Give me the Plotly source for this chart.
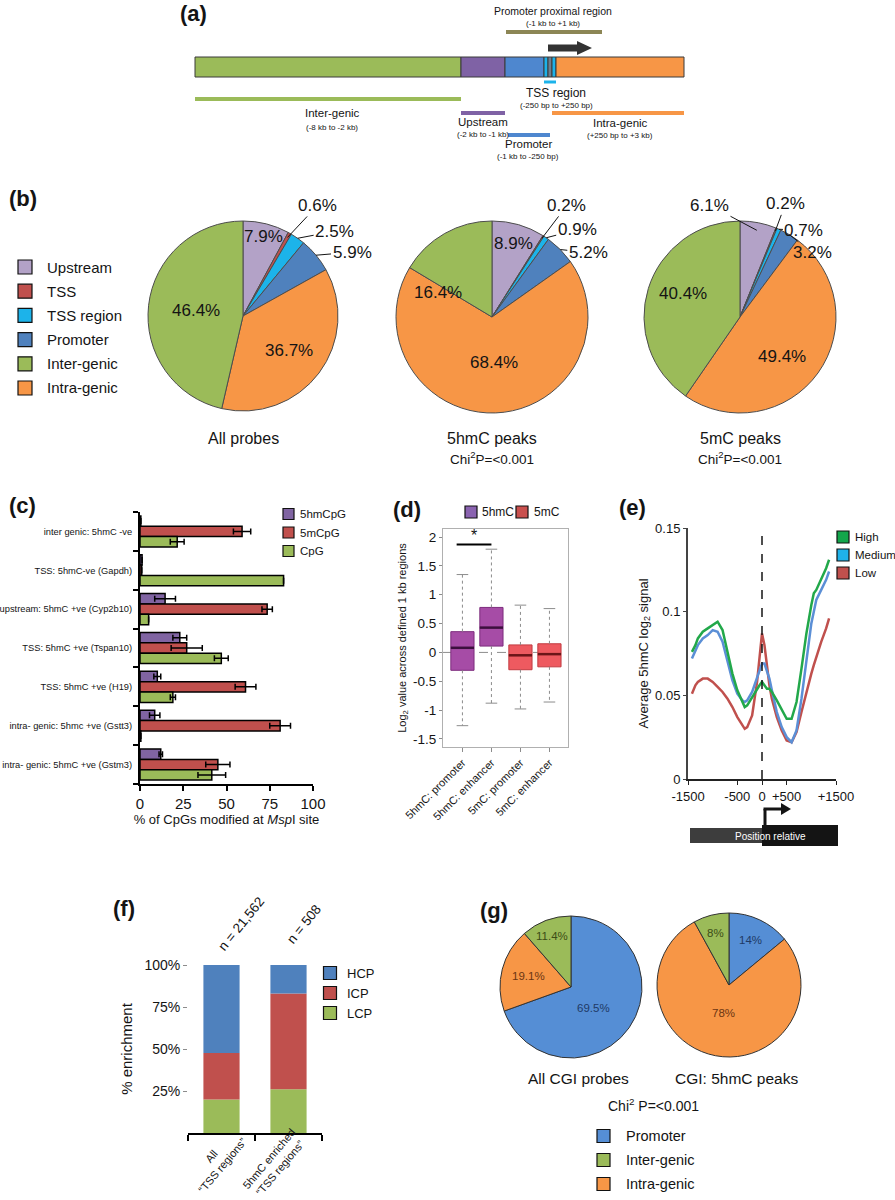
import math
import plotly.graph_objects as go

# ============================ DATA ============================
# (a) gene-region schematic (text only)
a_regions = ["Inter-genic", "Upstream", "Promoter", "TSS region", "Intra-genic"]
a_region_spans = ["(-8 kb to -2 kb)", "(-2 kb to -1 kb)", "(-1 kb to -250 bp)",
                  "(-250 bp to +250 bp)", "(+250 bp to +3 kb)"]
a_proximal_label = "Promoter proximal region"
a_proximal_span = "(-1 kb to +1 kb)"

# (b) genomic distribution of probes / peaks (percent)
b_labels = ["Upstream", "TSS", "TSS region", "Promoter", "Intra-genic", "Inter-genic"]
b_legend_order = ["Upstream", "TSS", "TSS region", "Promoter", "Inter-genic", "Intra-genic"]
b_all_probes = [7.9, 0.6, 2.5, 5.9, 36.7, 46.4]
b_5hmc_peaks = [8.9, 0.2, 0.9, 5.2, 68.4, 16.4]
b_5mc_peaks = [6.1, 0.2, 0.7, 3.2, 49.4, 40.4]
b_titles = ["All probes", "5hmC peaks", "5mC peaks"]
b_subtitles = ["", "Chi<sup>2</sup>P=&lt;0.001", "Chi<sup>2</sup>P=&lt;0.001"]

# (c) % of CpGs modified at MspI site
c_loci = ["inter genic: 5hmC -ve", "TSS: 5hmC-ve (Gapdh)", "upstream: 5hmC +ve (Cyp2b10)",
          "TSS: 5hmC +ve (Tspan10)", "TSS: 5hmC +ve (H19)", "intra- genic: 5hmc +ve (Gstt3)",
          "intra- genic: 5hmC +ve (Gstm3)"]
c_series = ["5hmCpG", "5mCpG", "CpG"]
c_5hmcpg = [0.5, 1.2, 14.5, 23.0, 10.0, 8.5, 12.0]
c_5hmcpg_err = [None, None, 6.0, 4.0, 2.0, 3.0, 1.0]
c_5mcpg = [59.0, 1.0, 73.5, 27.0, 61.0, 81.0, 45.0]
c_5mcpg_err = [5.0, None, 3.0, 9.0, 6.0, 6.0, 7.0]
c_cpg = [21.5, 83.0, 5.0, 47.0, 19.0, 0.5, 41.5]
c_cpg_err = [4.0, None, None, 4.0, 1.5, None, 8.0]

# (d) Log2 value across defined 1 kb regions (box statistics)
d_groups = ["5hmC: promoter", "5hmC: enhancer", "5mC: promoter", "5mC: enhancer"]
d_group_series = ["5hmC", "5hmC", "5mC", "5mC"]
d_series = ["5hmC", "5mC"]
d_upper_whisker = [1.35, 1.79, 0.82, 0.76]
d_q3 = [0.36, 0.78, 0.13, 0.15]
d_median = [0.08, 0.43, -0.05, -0.03]
d_q1 = [-0.31, 0.11, -0.30, -0.25]
d_lower_whisker = [-1.27, -0.88, -0.98, -0.86]
d_sig_level = 1.87
d_yticks = [-1.5, -1, -0.5, 0, 0.5, 1, 1.5, 2]

# (e) average 5hmC log2 signal around the TSS
e_position = [-1420, -1350, -1300, -1200, -1100, -1000, -900, -800, -700, -600, -500, -400,
              -350, -300, -200, -100, -50, 0, 50, 100, 150, 200, 300, 400, 500, 600, 700,
              800, 900, 1000, 1050, 1100, 1200, 1300, 1360]
e_high = [0.076, 0.080, 0.084, 0.088, 0.090, 0.092, 0.094, 0.089, 0.076, 0.063, 0.053, 0.046,
          0.043, 0.044, 0.049, 0.054, 0.056, 0.058, 0.056, 0.054, 0.054, 0.052, 0.047, 0.041,
          0.036, 0.036, 0.046, 0.066, 0.087, 0.104, 0.111, 0.113, 0.119, 0.126, 0.131]
e_medium = [0.072, 0.077, 0.080, 0.084, 0.086, 0.089, 0.088, 0.082, 0.070, 0.059, 0.051, 0.047,
            0.046, 0.047, 0.052, 0.060, 0.065, 0.069, 0.069, 0.065, 0.060, 0.053, 0.040, 0.031,
            0.025, 0.022, 0.029, 0.048, 0.072, 0.093, 0.100, 0.107, 0.113, 0.119, 0.124]
e_low = [0.051, 0.056, 0.058, 0.060, 0.060, 0.058, 0.055, 0.052, 0.048, 0.043, 0.037, 0.032,
         0.030, 0.031, 0.038, 0.058, 0.075, 0.087, 0.080, 0.068, 0.056, 0.048, 0.037, 0.029,
         0.023, 0.022, 0.028, 0.040, 0.052, 0.063, 0.068, 0.073, 0.082, 0.090, 0.096]
e_series = ["High", "Medium", "Low"]
e_xtick_vals = [-1500, -500, 0, 500, 1500]
e_xtick_text = ["-1500", "-500", "0", "+500", "+1500"]
e_ytick_vals = [0, 0.05, 0.1, 0.15]
e_ytick_text = ["0", "0.05", "0.1", "0.15"]

# (f) CpG class of TSS regions (% enrichment)
f_groups = ["All<br>“TSS regions”", "5hmC enriched<br>“TSS regions”"]
f_n = ["n = 21,562", "n = 508"]
f_series = ["HCP", "ICP", "LCP"]
f_lcp = [20.0, 26.0]
f_icp = [27.6, 57.0]
f_hcp = [52.4, 17.0]
f_yticks = [25, 50, 75, 100]

# (g) CGI probes / CGI 5hmC peaks (percent)
g_labels = ["Promoter", "Intra-genic", "Inter-genic"]
g_legend_order = ["Promoter", "Inter-genic", "Intra-genic"]
g_all_cgi = [69.5, 19.1, 11.4]
g_cgi_5hmc = [14, 78, 8]
g_titles = ["All CGI probes", "CGI: 5hmC peaks"]
g_stat = "Chi<sup>2</sup> P=&lt;0.001"

# ============================ STYLE ============================
W, H = 895, 1200
FONT = "Liberation Sans, Arial, Helvetica, sans-serif"
INK = "#141414"
C_GREEN, C_ORANGE, C_BLUE, C_RED = "#9bbb59", "#f79646", "#4f81bd", "#c0504d"
C_LAV, C_CYAN, C_PURPLE = "#b3a2c7", "#1cb3ea", "#8064a2"

b_colors = {"Upstream": C_LAV, "TSS": C_RED, "TSS region": C_CYAN, "Promoter": C_BLUE,
            "Inter-genic": C_GREEN, "Intra-genic": C_ORANGE}
g_colors = {"Promoter": "#558ed5", "Inter-genic": C_GREEN, "Intra-genic": C_ORANGE}
g_text_colors = {"Promoter": "#1f3a66", "Inter-genic": "#3c4d16", "Intra-genic": "#6b3512"}


def px(x):
    return x / W


def py(y):
    return 1 - y / H


shapes, annotations = [], []


def text(x, y, s, size, color=INK, bold=False, xanchor="center", yanchor="middle", **kw):
    if bold:
        s = "<b>%s</b>" % s
    annotations.append(dict(xref="paper", yref="paper", x=px(x), y=py(y), text=s, showarrow=False,
                            xanchor=xanchor, yanchor=yanchor,
                            font=dict(family=FONT, size=size, color=color), **kw))


def rect(x0, y0, x1, y1, fill, line="#333333", lw=1.0):
    shapes.append(dict(type="rect", xref="paper", yref="paper", x0=px(x0), x1=px(x1),
                       y0=py(y1), y1=py(y0), fillcolor=fill,
                       line=dict(color=line, width=lw)))


def seg(x0, y0, x1, y1, color, lw, dash="solid"):
    shapes.append(dict(type="line", xref="paper", yref="paper", x0=px(x0), x1=px(x1),
                       y0=py(y0), y1=py(y1), line=dict(color=color, width=lw, dash=dash)))


def poly(points, color):
    d = "M" + " L".join("%f,%f" % (px(x), py(y)) for x, y in points) + " Z"
    shapes.append(dict(type="path", xref="paper", yref="paper", path=d, fillcolor=color,
                       line=dict(color=color, width=0)))


def legend(labels, colors, sym_x, y0, dy, size, font_size, text_x):
    for i, (lab, col) in enumerate(zip(labels, colors)):
        yc = y0 + i * dy
        rect(sym_x - size / 2, yc - size / 2, sym_x + size / 2, yc + size / 2, col, "#111111", 1.2)
        text(text_x, yc, lab, font_size, xanchor="left")


def mid_angles(values):
    tot, cum, out = float(sum(values)), 0.0, []
    for v in values:
        out.append((cum + v / 2.0) / tot * 360.0)
        cum += v
    return out


def pie_point(cx, cy, r, ang, rf):
    a = math.radians(ang)
    return cx + r * rf * math.sin(a), cy - r * rf * math.cos(a)


def pie_domain(cx, cy, r):
    return dict(x=[px(cx - r), px(cx + r)], y=[py(cy + r), py(cy - r)])


fig = go.Figure()

# ---------------------------- (a) ----------------------------
text(193, 13, "(a)", 22, bold=True)
bar_top, bar_bot = 57, 77
for x0, x1, col in [(195, 461, C_GREEN), (461, 505, "#7f62a5"), (505, 544, "#4e87cf"),
                    (544, 548, C_CYAN), (548, 552, "#6f7f8f"), (552, 556, C_CYAN),
                    (556, 684, C_ORANGE)]:
    rect(x0, bar_top, x1, bar_bot, col, "#3a3a3a", 1)
seg(506, 32, 602, 32, "#8c8655", 4)
seg(544, 82, 556, 82, C_CYAN, 3)
seg(195, 99, 461, 99, C_GREEN, 4)
seg(461, 113, 505, 113, "#7f62a5", 4)
seg(508, 135, 550, 135, "#4e87cf", 4)
seg(552, 113, 684, 113, C_ORANGE, 4)
poly([(548, 44.5), (577, 44.5), (577, 41), (592, 48), (577, 55), (577, 51.5), (548, 51.5)], "#333333")
text(553, 11, a_proximal_label, 10.5)
text(553, 23, a_proximal_span, 8)
a_pos = [(332, 113, 127), (483, 122, 134), (528, 144, 156), (556, 93, 105), (620, 123, 136)]
a_size = [11.5, 11.5, 11.5, 12, 11.5]
for lab, span, (cx, yl, ys), fs in zip(a_regions, a_region_spans, a_pos, a_size):
    text(cx, yl, lab, fs)
    text(cx, ys, span, 8)

# ---------------------------- (b) ----------------------------
text(23, 199, "(b)", 22, bold=True)
legend(b_legend_order, [b_colors[k] for k in b_legend_order], 25, 267, 24.2, 14, 15, 45)
b_geom = [(243, 316, 95), (492, 317, 96), (740, 317, 96)]
b_label_style = [
    [("in", 0.86, 0), ("out", 0.95, 30, -32), ("out", 1.0, 37, -7), ("out", 1.0, 36, -3),
     ("in", 0.6, 0), ("in", 0.5, 0)],
    [("in", 0.8, 0), ("out", 0.97, 25, -33), ("out", 1.0, 31, -8), ("out", 1.0, 28, 3),
     ("in", 0.47, 0), ("in", 0.62, -36)],
    [("out", 0.92, -47, -25), ("out", 0.97, 10, -27), ("out", 1.0, 25, 1), ("out", 1.0, 23, 18),
     ("in", 0.6, 8), ("in", 0.64, 5)],
]
for k, (vals, (cx, cy, r)) in enumerate(zip([b_all_probes, b_5hmc_peaks, b_5mc_peaks], b_geom)):
    fig.add_trace(go.Pie(labels=b_labels, values=vals, sort=False, direction="clockwise",
                         rotation=0, textinfo="none", showlegend=False,
                         marker=dict(colors=[b_colors[l] for l in b_labels],
                                     line=dict(color="#4d4d4d", width=1)),
                         domain=pie_domain(cx, cy, r), name=b_titles[k]))
    mids = mid_angles(vals)
    for i, v in enumerate(vals):
        st = b_label_style[k][i]
        lab = "%g%%" % v
        if st[0] == "in":
            x, y = pie_point(cx, cy, r, mids[i] + st[2], st[1])
            text(x, y, lab, 17)
        else:
            x, y = pie_point(cx, cy, r, mids[i], st[1])
            annotations.append(dict(xref="paper", yref="paper", x=px(x), y=py(y), ax=st[2], ay=st[3],
                                    text=lab, showarrow=True, arrowhead=0, arrowwidth=1,
                                    arrowcolor=INK, standoff=0, xanchor="center", yanchor="middle",
                                    font=dict(family=FONT, size=17, color=INK)))
    text(cx, 438, b_titles[k], 16)
    if b_subtitles[k]:
        text(cx, 458, b_subtitles[k], 13.5)

# ---------------------------- (c) ----------------------------
text(22, 506, "(c)", 22, bold=True)
c_colors = [C_PURPLE, C_RED, C_GREEN]
c_y = list(range(len(c_loci)))
for name, vals, errs, col in zip(c_series, [c_5hmcpg, c_5mcpg, c_cpg],
                                 [c_5hmcpg_err, c_5mcpg_err, c_cpg_err], c_colors):
    fig.add_trace(go.Bar(x=vals, y=c_y, orientation="h", name=name, showlegend=False,
                         marker=dict(color=col, line=dict(color="black", width=1.5)),
                         error_x=dict(type="data", array=errs, visible=True, color="black",
                                      thickness=1.5, width=3),
                         xaxis="x", yaxis="y"))
legend(c_series, c_colors, 288.5, 514, 18.5, 11, 11.5, 298)

# ---------------------------- (d) ----------------------------
text(407, 509, "(d)", 22, bold=True)
d_fill = {"5hmC": "#a64ca6", "5mC": "#ee5a60"}
d_line = {"5hmC": "#7d2c7d", "5mC": "#c23b40"}
d_med = {"5hmC": "#3c0f3e", "5mC": "#6b1518"}
for s in d_series:
    idx = [i for i, g in enumerate(d_group_series) if g == s]
    fig.add_trace(go.Box(x=idx, q1=[d_q1[i] for i in idx], median=[d_median[i] for i in idx],
                         q3=[d_q3[i] for i in idx], lowerfence=[d_q1[i] for i in idx],
                         upperfence=[d_q3[i] for i in idx], width=0.8, whiskerwidth=0,
                         fillcolor=d_fill[s], line=dict(color=d_line[s], width=1),
                         boxpoints=False, name=s, showlegend=False, hoverinfo="skip",
                         xaxis="x2", yaxis="y2"))
wx, wy, cx_, cy_ = [], [], [], []
for i in range(len(d_groups)):
    wx += [i, i, None, i, i, None]
    wy += [d_q3[i], d_upper_whisker[i], None, d_q1[i], d_lower_whisker[i], None]
    cx_ += [i - 0.2, i + 0.2, None, i - 0.2, i + 0.2, None]
    cy_ += [d_upper_whisker[i], d_upper_whisker[i], None, d_lower_whisker[i], d_lower_whisker[i], None]
fig.add_trace(go.Scatter(x=wx, y=wy, mode="lines", line=dict(color="#8c8c8c", width=1, dash="dot"),
                         showlegend=False, hoverinfo="skip", xaxis="x2", yaxis="y2"))
fig.add_trace(go.Scatter(x=cx_, y=cy_, mode="lines", line=dict(color="#8c8c8c", width=1),
                         showlegend=False, hoverinfo="skip", xaxis="x2", yaxis="y2"))
for s in d_series:
    mx, my = [], []
    for i, g in enumerate(d_group_series):
        if g == s:
            mx += [i - 0.4, i + 0.4, None]
            my += [d_median[i], d_median[i], None]
    fig.add_trace(go.Scatter(x=mx, y=my, mode="lines", line=dict(color=d_med[s], width=2.5),
                             showlegend=False, hoverinfo="skip", xaxis="x2", yaxis="y2"))
shapes.append(dict(type="line", xref="x2 domain", yref="y2", x0=0, x1=1, y0=0, y1=0,
                   line=dict(color="#8c8c8c", width=1, dash="dash"), layer="below"))
shapes.append(dict(type="line", xref="x2", yref="y2", x0=-0.2, x1=1.0, y0=d_sig_level,
                   y1=d_sig_level, line=dict(color="black", width=2)))
annotations.append(dict(xref="x2", yref="y2", x=0.4, y=d_sig_level, yshift=9, text="*",
                        showarrow=False, xanchor="center", yanchor="middle",
                        font=dict(family=FONT, size=16, color=INK)))
rect(465, 506, 477, 518, "#8a63b0", "#111111", 1.2)
text(480, 512, d_series[0], 12, xanchor="left")
rect(516, 506, 528, 518, "#c9504e", "#111111", 1.2)
text(532, 512, d_series[1], 12, xanchor="left")

# ---------------------------- (e) ----------------------------
text(632, 507, "(e)", 22, bold=True)
e_colors = ["#22a84a", "#5b8fd6", C_RED]
for name, vals, col in reversed(list(zip(e_series, [e_high, e_medium, e_low], e_colors))):
    fig.add_trace(go.Scatter(x=e_position, y=vals, mode="lines", name=name, showlegend=False,
                             line=dict(color=col, width=2.5), xaxis="x3", yaxis="y3"))
shapes.append(dict(type="line", xref="x3", yref="y3", x0=0, x1=0, y0=0, y1=0.15,
                   line=dict(color=INK, width=1.5, dash="dash")))
legend(e_series, ["#13a64b", "#1fb2ea", C_RED], 843, 537, 18, 12, 11.5, 853)
rect(690, 828, 762, 843, "#3d3d3d", "#3d3d3d", 0)
rect(762, 825, 838, 846, "#141414", "#141414", 0)
text(770, 836, "Position relative", 10, color="white")
seg(765, 826, 765, 809, INK, 3)
seg(763.5, 809, 782, 809, INK, 3)
poly([(781, 803), (791, 809), (781, 815)], INK)

# ---------------------------- (f) ----------------------------
text(124, 909, "(f)", 22, bold=True)
f_x = list(range(len(f_groups)))
f_base_icp = list(f_lcp)
f_base_hcp = [a + b for a, b in zip(f_lcp, f_icp)]
for name, vals, base, col in [("LCP", f_lcp, [0] * len(f_lcp), C_GREEN),
                              ("ICP", f_icp, f_base_icp, C_RED),
                              ("HCP", f_hcp, f_base_hcp, C_BLUE)]:
    fig.add_trace(go.Bar(x=f_x, y=vals, base=base, width=0.54, offsetgroup="f", name=name,
                         marker=dict(color=col, line=dict(width=0)), showlegend=False,
                         xaxis="x4", yaxis="y4"))
legend(f_series, [C_BLUE, C_RED, C_GREEN], 330, 973, 20, 13, 13, 345)
for i, (lab, sh) in enumerate(zip(f_n, [19, 15])):
    annotations.append(dict(xref="x4", yref="paper", x=i, xshift=sh, y=py(924), text=lab,
                            showarrow=False, textangle=-51, xanchor="center", yanchor="middle",
                            font=dict(family=FONT, size=13.5, color=INK)))
for i, (lab, sh, yy) in enumerate(zip(f_groups, [-5, -14], [1161, 1163])):
    annotations.append(dict(xref="x4", yref="paper", x=i, xshift=sh, y=py(yy), text=lab,
                            showarrow=False, textangle=-50, align="center",
                            xanchor="center", yanchor="middle",
                            font=dict(family=FONT, size=11, color=INK)))

# ---------------------------- (g) ----------------------------
text(494, 910, "(g)", 22, bold=True)
g_geom = [(571, 987, 71), (729, 985, 72)]
g_label_style = [[(0.43, 8), (0.62, 0), (0.77, 0)], [(0.69, 0), (0.4, 0), (0.75, 0)]]
for k, (vals, (cx, cy, r)) in enumerate(zip([g_all_cgi, g_cgi_5hmc], g_geom)):
    fig.add_trace(go.Pie(labels=g_labels, values=vals, sort=False, direction="clockwise",
                         rotation=0, textinfo="none", showlegend=False,
                         marker=dict(colors=[g_colors[l] for l in g_labels],
                                     line=dict(color="#333333", width=1)),
                         domain=pie_domain(cx, cy, r), name=g_titles[k]))
    mids = mid_angles(vals)
    for i, v in enumerate(vals):
        rf, dang = g_label_style[k][i]
        x, y = pie_point(cx, cy, r, mids[i] + dang, rf)
        text(x, y, "%g%%" % v, 11.5, color=g_text_colors[g_labels[i]])
    text(cx + 7, 1078, g_titles[k], 15.5)
text(653, 1105, g_stat, 14)
legend(g_legend_order, [g_colors[k] for k in g_legend_order], 603.5, 1136, 24, 13, 14.5, 624)

# ============================ LAYOUT ============================
base_axis = dict(showgrid=False, zeroline=False, automargin=False,
                 tickfont=dict(family=FONT, size=13, color=INK))
fig.update_layout(
    template="none",
    width=W, height=H, margin=dict(l=0, r=0, t=0, b=0, pad=0, autoexpand=False),
    paper_bgcolor="white", plot_bgcolor="white", showlegend=False,
    font=dict(family=FONT, color=INK),
    barmode="group", bargap=0.2, bargroupgap=0,
    xaxis=dict(base_axis, domain=[px(140), px(313)], range=[0, 100], anchor="y",
               showline=True, linecolor="black", linewidth=2, ticks="outside", ticklen=5,
               tickwidth=2, tickcolor="black", tickvals=[0, 25, 50, 75, 100],
               tickfont=dict(family=FONT, size=15, color=INK),
               title=dict(text="% of CpGs modified at <i>Msp</i>I site",
                          font=dict(family=FONT, size=13, color=INK), standoff=3)),
    yaxis=dict(base_axis, domain=[py(784), py(512)], range=[6.5, -0.5], anchor="x",
               showline=True, linecolor="black", linewidth=2, tickvals=c_y, ticktext=c_loci,
               ticks="", tickfont=dict(family=FONT, size=9.3, color=INK), ticklabelstandoff=4,
               minor=dict(tickmode="array", tickvals=[i - 0.5 for i in range(len(c_loci) + 1)],
                          ticks="outside", ticklen=5, tickwidth=2, tickcolor="black")),
    xaxis2=dict(base_axis, domain=[px(443), px(568)], range=[-0.67, 3.64], anchor="y2",
                showline=True, mirror=True, linecolor="#b0b0b0", linewidth=1,
                tickvals=list(range(len(d_groups))), ticktext=d_groups, tickangle=-45,
                ticks="outside", ticklen=4, tickcolor="#8c8c8c",
                tickfont=dict(family=FONT, size=11, color=INK)),
    yaxis2=dict(base_axis, domain=[py(747), py(529)], range=[-1.64, 2.14], anchor="x2",
                showline=True, mirror=True, linecolor="#b0b0b0", linewidth=1,
                tickvals=d_yticks, ticktext=["%g" % v for v in d_yticks],
                ticks="outside", ticklen=3, tickcolor="#8c8c8c",
                tickfont=dict(family=FONT, size=13.5, color=INK),
                title=dict(text="Log<sub>2</sub> value across defined 1 kb regions",
                           font=dict(family=FONT, size=11, color=INK), standoff=4)),
    xaxis3=dict(base_axis, domain=[px(688), px(836)], range=[-1500, 1500], anchor="y3",
                showline=True, linecolor="#222222", linewidth=2, ticks="outside", ticklen=4,
                tickcolor="#222222", tickvals=e_xtick_vals, ticktext=e_xtick_text,
                tickfont=dict(family=FONT, size=13, color=INK)),
    yaxis3=dict(base_axis, domain=[py(779), py(528)], range=[0, 0.15], anchor="x3",
                showline=True, linecolor="#444444", linewidth=2, ticks="outside", ticklen=3,
                tickcolor="#444444", tickvals=e_ytick_vals, ticktext=e_ytick_text,
                tickfont=dict(family=FONT, size=13, color=INK),
                title=dict(text="Average 5hmC log<sub>2</sub> signal",
                           font=dict(family=FONT, size=13, color=INK), standoff=4)),
    xaxis4=dict(base_axis, domain=[px(188), px(322)], range=[-0.5, 1.5], anchor="y4",
                showline=True, linecolor="black", linewidth=1.5, tickvals=f_x,
                showticklabels=False, ticks="",
                minor=dict(tickmode="array", tickvals=[-0.5, 0.5, 1.5], ticks="outside",
                           ticklen=6, tickwidth=1.5, tickcolor="black")),
    yaxis4=dict(base_axis, domain=[py(1133), py(965)], range=[0, 100], anchor="x4",
                showline=False, tickvals=f_yticks, ticktext=["%d%%" % v for v in f_yticks],
                ticks="outside", ticklen=4, tickcolor="#8c8c8c",
                tickfont=dict(family=FONT, size=14, color=INK),
                title=dict(text="% enrichment", font=dict(family=FONT, size=15, color=INK),
                           standoff=8)),
    shapes=shapes, annotations=annotations,
)

fig.write_html("out.html", config={"displayModeBar": False},
               post_script="document.body.style.margin='0px';document.body.style.overflow='hidden';")
